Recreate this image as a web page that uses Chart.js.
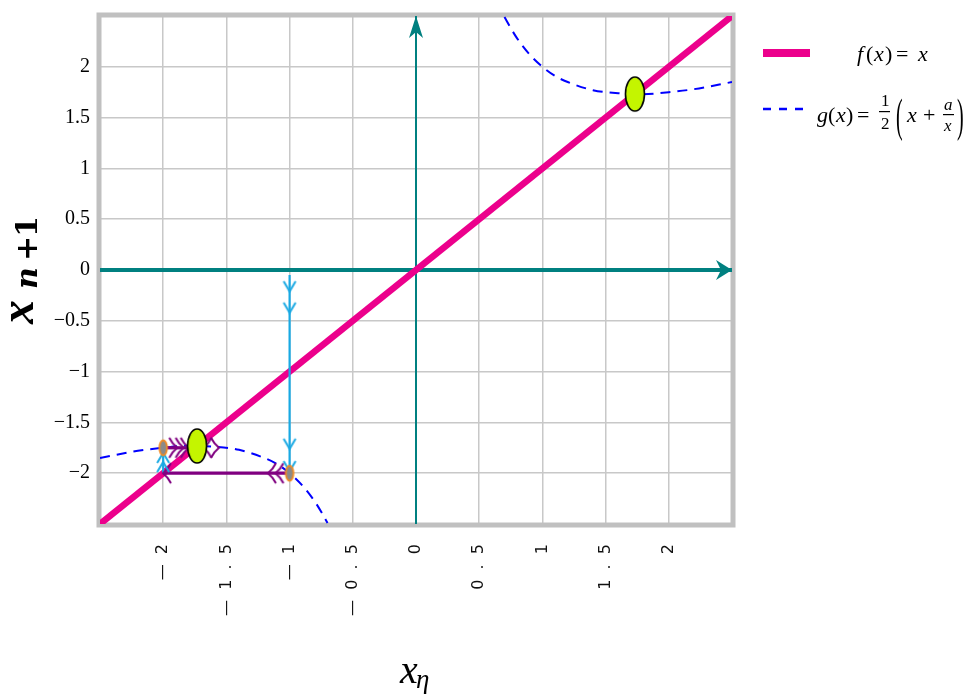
<!DOCTYPE html>
<html><head><meta charset="utf-8">
<script src="https://cdn.jsdelivr.net/npm/chart.js@4/dist/chart.umd.min.js"></script>
<style>html,body{margin:0;padding:0;background:#fff}#wrap{width:971px;height:697px}</style>
</head><body><div id="wrap"><canvas id="c" width="971" height="697"></canvas></div>
<script>
// ---- data ----
const xTickValues = [-2, -1.5, -1, -0.5, 0, 0.5, 1, 1.5, 2];
const xTickLabels = ['−2', '−1.5', '−1', '−0.5', '0', '0.5', '1', '1.5', '2'];
const yTickValues = [-2, -1.5, -1, -0.5, 0, 0.5, 1, 1.5, 2];
const yTickLabels = ['−2', '−1.5', '−1', '−0.5', '0', '0.5', '1', '1.5', '2'];

const identityX = [-2.5, 2.5];
const identityY = [-2.5, 2.5];

const gPosX = [0.70, 0.75, 0.8, 0.9, 1.0, 1.1, 1.2, 1.4, 1.6, 1.8, 2.0, 2.2, 2.5];
const gPosY = [2.49, 2.38, 2.28, 2.12, 2.0, 1.91, 1.85, 1.77, 1.74, 1.73, 1.75, 1.78, 1.85];
const gNegX = [-2.5, -2.2, -2.0, -1.8, -1.6, -1.4, -1.2, -1.1, -1.0, -0.9, -0.8, -0.75, -0.70];
const gNegY = [-1.85, -1.78, -1.75, -1.73, -1.74, -1.77, -1.85, -1.91, -2.0, -2.12, -2.28, -2.38, -2.49];

const axisHX = [-2.5, 2.5], axisHY = [0, 0];
const axisVX = [0, 0], axisVY = [-2.5, 2.5];

const cyan1X = [-1, -1], cyan1Y = [-0.05, -2];
const purple1X = [-1, -2], purple1Y = [-2, -2];
const cyan2X = [-2, -2], cyan2Y = [-2, -1.75];
const purple2X = [-2, -1.75], purple2Y = [-1.75, -1.75];

const iterX = [-1, -2], iterY = [-2, -1.75];
const fixedX = [1.732, -1.732], fixedY = [1.732, -1.732];

const downArrX = [-1, -1, -1, -1], downArrY = [-0.16, -0.37, -1.71, -1.93];
const upArrX = [-2, -2], upArrY = [-1.85, -1.94];
const leftArrX = [-1.14, -1.08, -1.97, -1.65], leftArrY = [-2, -2, -2, -1.75];
const rightArrX = [-1.92, -1.87, -1.83, -1.59], rightArrY = [-1.75, -1.75, -1.75, -1.75];

// ---- helpers ----
const zip = (xs, ys) => xs.map((x, i) => ({x, y: ys[i]}));
function mk(w, h, draw) { const c = document.createElement('canvas'); c.width = w; c.height = h; draw(c.getContext('2d')); return c; }

const PINK = '#ec008c', TEAL = '#008080', CYAN = '#19a9e3', PURPLE = '#800080', BLUE = '#0000ff';

const ellipseImg = mk(24, 40, g => { g.beginPath(); g.ellipse(12, 20, 9.5, 17, 0, 0, Math.PI * 2); g.fillStyle = '#c4f500'; g.fill(); g.lineWidth = 1.6; g.strokeStyle = '#000'; g.stroke(); });
const dotImg = mk(12, 20, g => { g.beginPath(); g.ellipse(6, 10, 3.8, 7.5, 0, 0, Math.PI * 2); g.fillStyle = '#8a8a8a'; g.fill(); g.lineWidth = 1.8; g.strokeStyle = '#f08a24'; g.stroke(); });
const chevDown = mk(16, 14, g => { g.beginPath(); g.moveTo(2, 2); g.lineTo(8, 12); g.lineTo(14, 2); g.strokeStyle = CYAN; g.lineWidth = 2; g.stroke(); });
const chevLeft = mk(12, 24, g => { g.beginPath(); g.moveTo(10, 2); g.quadraticCurveTo(7, 8, 2, 12); g.quadraticCurveTo(7, 16, 10, 22); g.strokeStyle = PURPLE; g.lineWidth = 2; g.stroke(); });
const arrowRight = mk(40, 26, g => { g.beginPath(); g.moveTo(20, 13); g.lineTo(4, 3); g.lineTo(9, 13); g.lineTo(4, 23); g.closePath(); g.fillStyle = TEAL; g.fill(); });
const arrowUpImg = mk(16, 48, g => { g.beginPath(); g.moveTo(8, 24); g.lineTo(1, 46); g.lineTo(8, 40); g.lineTo(15, 46); g.closePath(); g.fillStyle = TEAL; g.fill(); });

const lineDs = (data, color, width, extra) => Object.assign({type: 'scatter', data, showLine: true, borderColor: color, backgroundColor: color, borderWidth: width, pointRadius: 0, pointHoverRadius: 0}, extra || {});
const markDs = (data, img, rot) => ({type: 'scatter', data, pointStyle: img, pointRadius: 6, pointHoverRadius: 6, rotation: rot || 0, showLine: false, clip: false});

// ---- plugins ----
const framePlugin = {
  id: 'frame',
  beforeDatasetsDraw(chart) {
    const {ctx, chartArea: a} = chart;
    ctx.save(); ctx.strokeStyle = '#c0c0c0'; ctx.lineWidth = 5;
    ctx.strokeRect(a.left - 1, a.top - 1, a.right - a.left + 2, a.bottom - a.top + 2);
    ctx.restore();
  }
};

const textPlugin = {
  id: 'mathText',
  afterDraw(chart) {
    const ctx = chart.ctx;
    ctx.save();
    ctx.fillStyle = '#000'; ctx.textBaseline = 'alphabetic'; ctx.textAlign = 'left';
    // y-axis title x_{n+1}
    ctx.save();
    ctx.translate(22, 267); ctx.rotate(-Math.PI / 2);
    ctx.font = 'bold italic 48px "Liberation Serif"';
    ctx.fillText('x', -57, 11);
    ctx.font = 'bold italic 30px "DejaVu Serif"';
    ctx.fillText('n', -22, 15);
    ctx.font = 'bold 30px "DejaVu Serif"';
    ctx.fillText('+', 6, 15);
    ctx.fillText('1', 30, 15);
    ctx.restore();
    // x-axis title x_eta
    ctx.font = 'italic 40px "Liberation Serif"';
    ctx.fillText('x', 400, 683);
    ctx.font = 'italic 27px "Liberation Serif"';
    ctx.fillText('η', 416, 688);

    // legend
    ctx.strokeStyle = PINK; ctx.lineWidth = 8; ctx.beginPath(); ctx.moveTo(763, 53); ctx.lineTo(810, 53); ctx.stroke();
    ctx.strokeStyle = BLUE; ctx.lineWidth = 2.5; ctx.setLineDash([8, 8]); ctx.beginPath(); ctx.moveTo(763, 109); ctx.lineTo(805, 109); ctx.stroke(); ctx.setLineDash([]);
    const it = 'italic 22px "Liberation Serif"', up = '22px "Liberation Serif"';
    const put = (t, f, x, y) => { ctx.font = f; ctx.fillText(t, x, y); };
    put('f', it, 857, 61); put('(', up, 866, 61); put('x', it, 874, 61); put(')', up, 885, 61); put('=', up, 896, 61); put('x', it, 918, 61);
    put('g', it, 817, 122); put('(', up, 828, 122); put('x', it, 836, 122); put(')', up, 846, 122); put('=', up, 857, 122);
    put('1', '17px "Liberation Serif"', 881, 106); ctx.fillRect(879, 111, 11, 1.2); put('2', '17px "Liberation Serif"', 881, 129);
    ctx.save(); ctx.translate(896, 131); ctx.scale(1, 2.3); put('(', '20px "Liberation Serif"', 0, 0); ctx.restore();
    put('x', it, 907, 122); put('+', up, 923, 122);
    put('a', 'italic 17px "Liberation Serif"', 944, 110); ctx.fillRect(943, 114, 11, 1.2); put('x', 'italic 17px "Liberation Serif"', 944, 131);
    ctx.save(); ctx.translate(957, 131); ctx.scale(1, 2.3); put(')', '20px "Liberation Serif"', 0, 0); ctx.restore();
    ctx.restore();
  }
};

const datasets = [
  markDs(zip(fixedX, fixedY), ellipseImg),
  markDs(zip(iterX, iterY), dotImg),
  markDs(zip(downArrX, downArrY), chevDown, 0),
  markDs(zip(upArrX, upArrY), chevDown, 180),
  markDs(zip(leftArrX, leftArrY), chevLeft, 0),
  markDs(zip(rightArrX, rightArrY), chevLeft, 180),
  lineDs(zip(cyan1X, cyan1Y), CYAN, 2.2),
  lineDs(zip(cyan2X, cyan2Y), CYAN, 2.2),
  lineDs(zip(purple1X, purple1Y), PURPLE, 3.2),
  lineDs(zip(purple2X, purple2Y), PURPLE, 3.2),
  markDs([{x: axisHX[1], y: axisHY[1]}], arrowRight, 0),
  markDs([{x: axisVX[1], y: axisVY[1]}], arrowUpImg, 0),
  lineDs(zip(identityX, identityY), PINK, 6.5),
  lineDs(zip(axisHX, axisHY), TEAL, 4),
  lineDs(zip(axisVX, axisVY), TEAL, 2),
  lineDs(zip(gPosX, gPosY), BLUE, 2, {borderDash: [10, 7], cubicInterpolationMode: 'monotone'}),
  lineDs(zip(gNegX, gNegY), BLUE, 2, {borderDash: [10, 7], cubicInterpolationMode: 'monotone'})
];

new Chart(document.getElementById('c'), {
  type: 'scatter',
  data: {datasets},
  options: {
    responsive: false, animation: false, devicePixelRatio: 1,
    layout: {padding: {top: 16, right: 239, left: 0, bottom: 0}},
    plugins: {legend: {display: false}, tooltip: {enabled: false}},
    scales: {
      x: {
        type: 'linear', min: -2.5, max: 2.5,
        afterBuildTicks: s => { s.ticks = xTickValues.map(v => ({value: v})); },
        afterFit: s => { s.height = 173; s.paddingLeft = 0; s.paddingRight = 0; },
        grid: {color: '#c8c8c8', lineWidth: 1.5, drawTicks: false},
        border: {display: false},
        ticks: {
          autoSkip: false, minRotation: 90, maxRotation: 90, padding: 20,
          color: '#111', font: {family: 'DejaVu Sans', size: 16},
          callback: v => { const l = xTickLabels[xTickValues.indexOf(v)]; return l === undefined ? '' : l.replace('−', '—').split('').join('  '); }
        }
      },
      y: {
        type: 'linear', min: -2.5, max: 2.5,
        afterBuildTicks: s => { s.ticks = yTickValues.map(v => ({value: v})); },
        afterFit: s => { s.width = 100; s.paddingTop = 0; s.paddingBottom = 0; },
        grid: {color: '#c8c8c8', lineWidth: 1.5, drawTicks: false},
        border: {display: false},
        ticks: {
          padding: 10, color: '#000', font: {family: 'Liberation Serif', size: 20},
          callback: v => { const l = yTickLabels[yTickValues.indexOf(v)]; return l === undefined ? '' : l; }
        }
      }
    }
  },
  plugins: [framePlugin, textPlugin]
});
</script>
</body></html>
